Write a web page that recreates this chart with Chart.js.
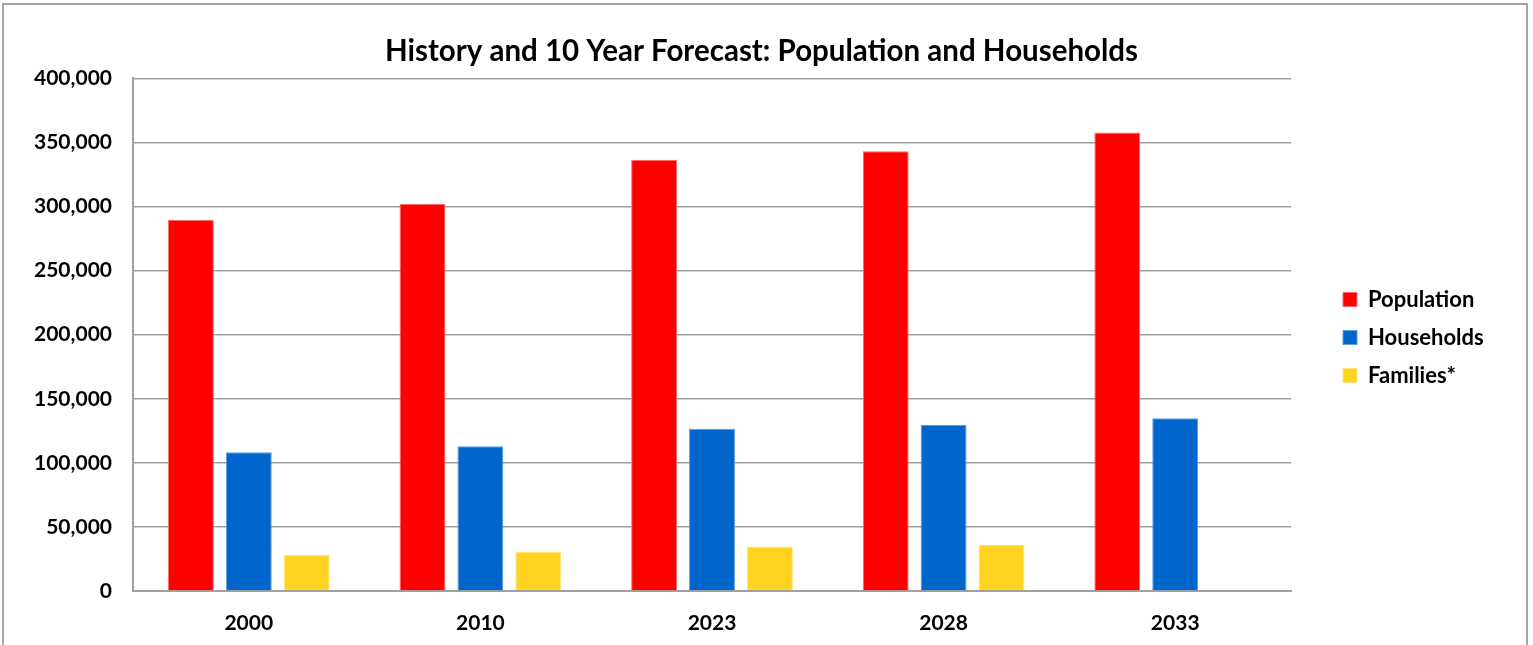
<!DOCTYPE html>
<html>
<head>
<meta charset="utf-8">
<script src="https://cdn.jsdelivr.net/npm/chart.js@4/dist/chart.umd.min.js"></script>
<style>
    html, body { margin: 0; padding: 0; background: #fff; overflow: hidden; }
    #wrap { position: relative; width: 1533px; height: 645px; }
    #frame {
        position: absolute; left: 2px; top: 3px; width: 1526px; height: 700px;
        border: 2px solid #a6a6a6; box-sizing: border-box; pointer-events: none;
    }
</style>
</head>
<body>
<div id="wrap">
    <canvas id="forecastChart" width="1533" height="645"></canvas>
    <div id="frame"></div>
</div>
<script>
// Data
var years = ['2000', '2010', '2023', '2028', '2033'];
var population = [289500, 302000, 336300, 343100, 357800];
var households = [108200, 113000, 126600, 129500, 134800];
var families = [28100, 30800, 34800, 35900, null];
var seriesNames = ['Population', 'Households', 'Families*'];
var yTicks = [0, 50000, 100000, 150000, 200000, 250000, 300000, 350000, 400000];

var FONT = 'Lato, "Open Sans", sans-serif';

// Pin the legend width and nudge legend + title into place
var layoutFix = {
    id: 'layoutFix',
    beforeInit: function(chart) {
        var origFit = chart.legend.fit;
        chart.legend.fit = function() {
            origFit.call(this);
            this.width = 242;
        };
    },
    afterLayout: function(chart) {
        chart.legend.left += 36;
        chart.legend.top += 15;
        chart.legend.bottom += 15;
        chart.titleBlock.left -= 15;
        chart.titleBlock.right -= 15;
    }
};

function makeSet(label, data, color, edge) {
    return {
        label: label,
        data: data,
        backgroundColor: color,
        borderColor: edge,
        borderWidth: 1,
        categoryPercentage: 0.75,
        barPercentage: 0.793
    };
}

var ctx = document.getElementById('forecastChart').getContext('2d');
var chart = new Chart(ctx, {
    type: 'bar',
    data: {
        labels: years,
        datasets: [
            makeSet(seriesNames[0], population, '#ff0000', '#ff6b6b'),
            makeSet(seriesNames[1], households, '#0066cc', '#5b9be0'),
            makeSet(seriesNames[2], families, '#ffd320', '#ffe27a')
        ]
    },
    options: {
        responsive: false,
        animation: false,
        layout: { padding: { left: 20, right: 0, top: 0, bottom: 0 } },
        scales: {
            x: {
                grid: { display: false, drawTicks: false },
                border: { display: true, color: '#a0a0a0', width: 2 },
                ticks: {
                    color: '#000',
                    padding: 20,
                    font: { family: FONT, size: 21, weight: 'bold' }
                },
                afterFit: function(scale) { scale.height = 54; }
            },
            y: {
                min: 0,
                max: 400000,
                afterBuildTicks: function(scale) {
                    scale.ticks = yTicks.map(function(v) { return { value: v }; });
                },
                grid: { color: '#a0a0a0', lineWidth: 1.5, drawTicks: false },
                border: { display: true, color: '#a0a0a0', width: 2 },
                ticks: {
                    color: '#000',
                    padding: 21,
                    font: { family: FONT, size: 21, weight: 'bold' },
                    callback: function(value) { return value.toLocaleString('en-US'); }
                },
                afterFit: function(scale) { scale.width = 113; }
            }
        },
        plugins: {
            title: {
                display: true,
                text: 'History and 10 Year Forecast: Population and Households',
                color: '#000',
                font: { family: FONT, size: 29.5, weight: 'bold' },
                padding: { top: 34, bottom: 9 }
            },
            legend: {
                position: 'right',
                labels: {
                    color: '#000',
                    boxWidth: 14,
                    boxHeight: 14,
                    padding: 16,
                    font: { family: FONT, size: 22, weight: 'bold' }
                }
            },
            tooltip: { enabled: false }
        }
    },
    plugins: [layoutFix]
});
</script>
</body>
</html>
